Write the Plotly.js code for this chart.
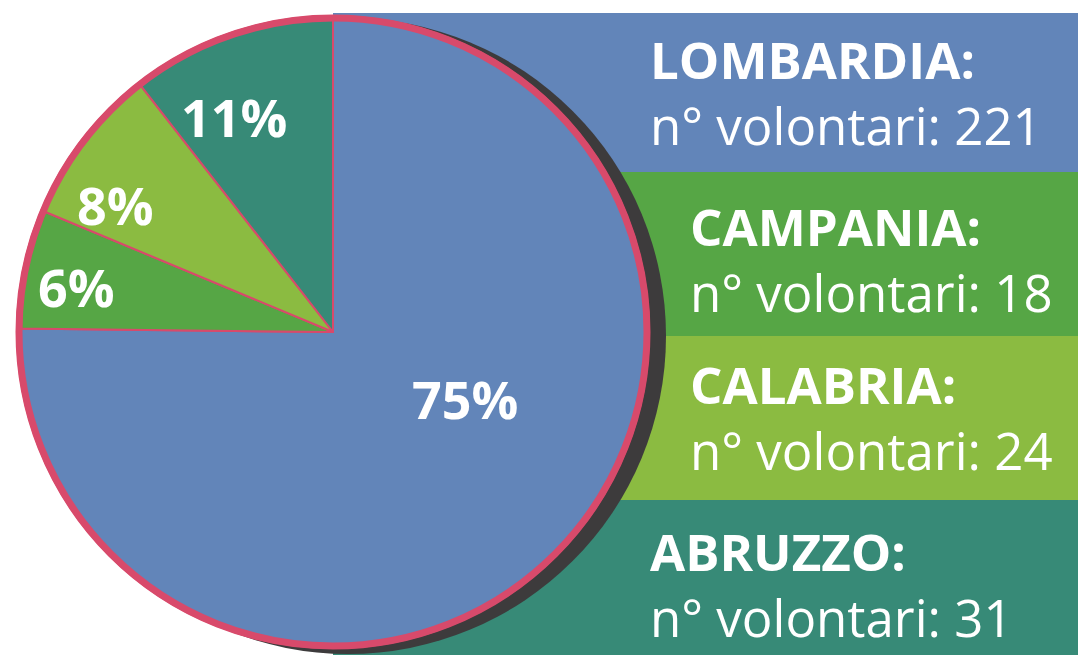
<!DOCTYPE html>
<html>
<head>
<meta charset="utf-8">
<script src="https://cdn.plot.ly/plotly-3.0.1.min.js"></script>
<style>
  html, body { margin: 0; padding: 0; background: #ffffff; }
  #chart { width: 1078px; height: 655px; }
</style>
</head>
<body>
<div id="chart"></div>
<script>
// ---- data ----
const regions = ["LOMBARDIA", "CAMPANIA", "CALABRIA", "ABRUZZO"];
const volunteers = [221, 18, 24, 31];
const percentLabels = ["75%", "6%", "8%", "11%"];
const colors = ["#6285b9", "#56a645", "#8bbb41", "#378a77"];
const valueLabel = "n° volontari: ";

// ---- geometry helpers (pixel -> paper) ----
const W = 1078, H = 655;
const px = x => x / W;
const py = y => 1 - y / H;

const cx = 333, cy = 332, r = 316;
const FONT = "'Open Sans', 'Noto Sans', sans-serif";

const data = [{
  type: "pie",
  values: volunteers,
  labels: regions,
  sort: false,
  direction: "clockwise",
  rotation: 0,
  textinfo: "none",
  hoverinfo: "label+value+percent",
  marker: { colors: colors, line: { color: "#d84a6b", width: 2 } },
  domain: { x: [px(cx - r), px(cx + r)], y: [py(cy + r), py(cy - r)] },
  showlegend: false
}];

// bands on the right
const bandY = [13, 172, 336, 500, 655];
const shapes = [];
regions.forEach((reg, i) => {
  shapes.push({
    type: "rect", xref: "paper", yref: "paper", layer: "below",
    x0: px(333), x1: 1, y0: py(bandY[i + 1]), y1: py(bandY[i]),
    fillcolor: colors[i], line: { width: 0 }
  });
});
// shadow
shapes.push({
  type: "circle", xref: "paper", yref: "paper", layer: "below",
  x0: px(348 - 318), x1: px(348 + 318), y0: py(336 + 318), y1: py(336 - 318),
  fillcolor: "#3d3b3c", line: { width: 0 }
});
// crimson outer border
shapes.push({
  type: "circle", xref: "paper", yref: "paper", layer: "above",
  x0: px(cx - 314), x1: px(cx + 314), y0: py(cy + 314), y1: py(cy - 314),
  fillcolor: "rgba(0,0,0,0)", line: { color: "#d84a6b", width: 7 }
});

// annotations
const annotations = [];
const headX = [648, 688, 688, 648];
const blockY = [92, 259, 417, 584];
regions.forEach((reg, i) => {
  annotations.push({
    xref: "paper", yref: "paper", x: px(headX[i]), y: py(blockY[i]),
    xanchor: "left", yanchor: "middle", align: "left", showarrow: false,
    text: "<b>" + reg + ":</b><br>" + valueLabel + volunteers[i],
    font: { family: FONT, size: 51, color: "#ffffff", weight: 400 }
  });
});
const pctPos = [[465, 399], [76, 286], [115, 205], [234, 117]];
percentLabels.forEach((t, i) => {
  annotations.push({
    xref: "paper", yref: "paper", x: px(pctPos[i][0]), y: py(pctPos[i][1]),
    xanchor: "center", yanchor: "middle", showarrow: false,
    text: t,
    font: { family: FONT, size: 52, color: "#ffffff", weight: 700 }
  });
});

const layout = {
  width: W, height: H,
  margin: { l: 0, r: 0, t: 0, b: 0 },
  paper_bgcolor: "#ffffff",
  plot_bgcolor: "#ffffff",
  shapes: shapes,
  annotations: annotations,
  showlegend: false
};

Plotly.newPlot("chart", data, layout, { displayModeBar: false, staticPlot: true });
</script>
</body>
</html>
